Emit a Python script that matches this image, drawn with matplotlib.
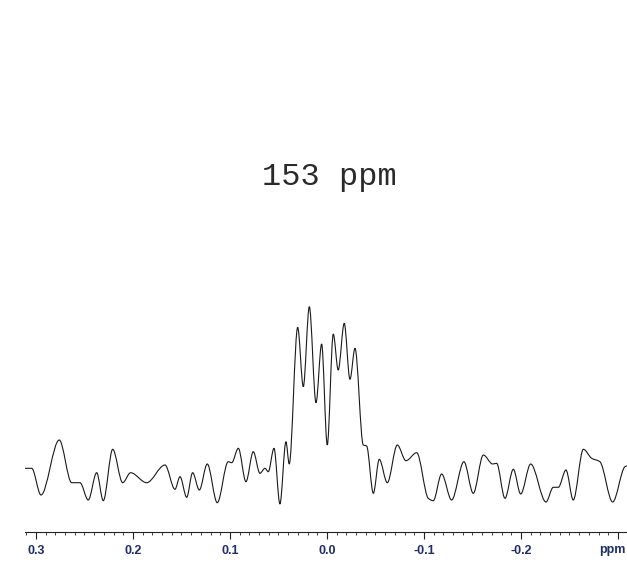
import numpy as np
import matplotlib
matplotlib.use("Agg")
import matplotlib.pyplot as plt
import matplotlib.transforms as mtransforms
from matplotlib.path import Path
from matplotlib.patches import PathPatch
from matplotlib.ticker import MultipleLocator, FixedLocator, FixedFormatter

# Spectrum extrema: chemical shift (ppm) and intensity (a.u.)
shift_ppm = [0.3113, 0.3044, 0.2948, 0.2760, 0.2632, 0.2546, 0.2461, 0.2374, 0.2306,
             0.2209, 0.2106, 0.2024, 0.1859, 0.1670, 0.1567, 0.1515, 0.1446, 0.1385,
             0.1316, 0.1234, 0.1131, 0.1018, 0.0982, 0.0914, 0.0835, 0.0760, 0.0691,
             0.0639, 0.0605, 0.0546, 0.0485, 0.0423, 0.0389, 0.0302, 0.0244, 0.0182,
             0.0113, 0.0055, -0.0003, -0.0065, -0.0116, -0.0178, -0.0237, -0.0289,
             -0.0374, -0.0409, -0.0478, -0.0539, -0.0622, -0.0725, -0.0814, -0.0925,
             -0.1044, -0.1096, -0.1182, -0.1285, -0.1412, -0.1508, -0.1612, -0.1708,
             -0.1749, -0.1835, -0.1921, -0.1997, -0.2100, -0.2258, -0.2333, -0.2385,
             -0.2464, -0.2539, -0.2643, -0.2729, -0.2814, -0.2945, -0.3072, -0.3093]
intensity = [63.7, 63.7, 37.0, 92.0, 49.3, 49.3, 32.0, 59.3, 31.3,
             82.7, 49.3, 59.3, 49.3, 67.0, 42.7, 55.3, 34.7, 59.3,
             42.0, 68.0, 29.3, 70.3, 69.3, 83.7, 50.3, 80.3, 58.7,
             63.7, 60.3, 83.7, 28.0, 90.3, 68.0, 204.7, 145.3, 225.3,
             129.3, 188.0, 87.0, 198.0, 162.0, 208.7, 152.7, 183.7,
             87.0, 86.0, 38.7, 72.7, 49.3, 87.0, 71.3, 79.3,
             33.7, 31.3, 58.0, 32.0, 70.3, 38.7, 77.0, 68.0,
             68.7, 33.7, 62.7, 38.0, 68.0, 30.0, 44.7, 44.7,
             62.0, 32.0, 82.7, 73.7, 70.3, 30.0, 65.3, 66.0]

major_ticks = [0.3, 0.2, 0.1, 0.0, -0.1, -0.2, -0.3]
tick_labels = ["0.3", "0.2", "0.1", "0.0", "-0.1", "-0.2", "ppm"]
title_text = "153 ppm"

W, H = 627, 585
fig = plt.figure(figsize=(W / 100, H / 100), dpi=100)
ax = fig.add_axes([25 / W, 1 - 532 / H, 1 - 25 / W, 532 / H])
ax.set_xlim(0.3113, -0.3093)
ax.set_ylim(0, 532)

# smooth path through the read extrema (horizontal tangent at extrema)
x = np.array(shift_ppm)
y = np.array(intensity)
n = len(x)
m = np.zeros(n)
d = np.diff(y) / np.diff(x)
for i in range(1, n - 1):
    if d[i - 1] * d[i] > 0:
        m[i] = 2 * d[i - 1] * d[i] / (d[i - 1] + d[i])
verts = [(x[0], y[0])]
codes = [Path.MOVETO]
for i in range(n - 1):
    h = x[i + 1] - x[i]
    verts += [(x[i] + h / 3, y[i] + m[i] * h / 3),
              (x[i + 1] - h / 3, y[i + 1] - m[i + 1] * h / 3),
              (x[i + 1], y[i + 1])]
    codes += [Path.CURVE4] * 3
ax.add_patch(PathPatch(Path(verts, codes), facecolor="none", edgecolor="#1a1a1a", lw=0.8))

for s in ["top", "left", "right"]:
    ax.spines[s].set_visible(False)
ax.spines["bottom"].set_color("#222222")
ax.spines["bottom"].set_linewidth(0.8)
ax.set_yticks([])
ax.xaxis.set_major_locator(FixedLocator(major_ticks))
ax.xaxis.set_major_formatter(FixedFormatter(tick_labels))
ax.xaxis.set_minor_locator(MultipleLocator(0.01))
ax.tick_params(axis="x", which="major", length=5, width=0.8, color="#222222",
               labelsize=9, labelcolor="#1f2d6b", pad=4)
ax.tick_params(axis="x", which="minor", length=2.5, width=0.6, color="#222222")
labels = ax.get_xticklabels()
for lab in labels:
    lab.set_fontfamily("Liberation Sans")
    lab.set_fontweight("bold")
# unit label sits right-aligned at the figure edge
labels[-1].set_horizontalalignment("right")
labels[-1].set_transform(labels[-1].get_transform() +
                         mtransforms.ScaledTranslation(8 / 100, 0, fig.dpi_scale_trans))

fig.text(329 / W, 1 - 177 / H, title_text, ha="center", va="center",
         fontsize=23, family="Liberation Mono", color="#2a2a2a")

fig.savefig("out.png", dpi=100)
